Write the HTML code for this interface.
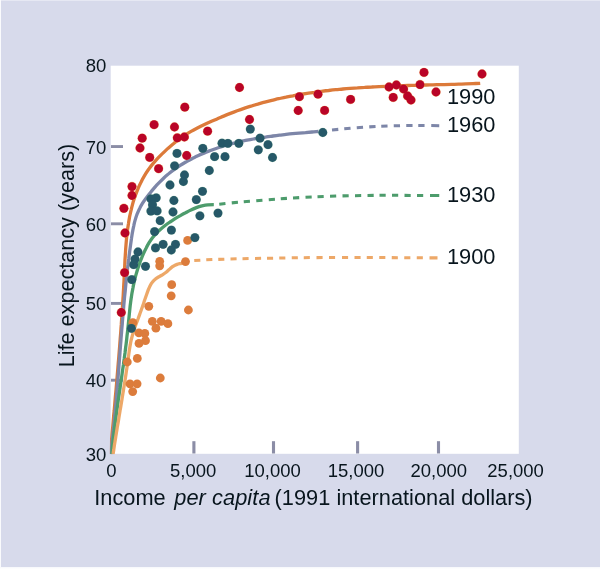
<!DOCTYPE html>
<html><head><meta charset="utf-8"><title>Life expectancy and income</title>
<style>
html,body{margin:0;padding:0;}
body{width:600px;height:569px;overflow:hidden;background:#d7daeb;position:relative;font-family:"Liberation Sans",sans-serif;}
.edge-t{position:absolute;left:0;top:0;width:600px;height:1px;background:#e6e8f3;}
.edge-l{position:absolute;left:0;top:0;width:1px;height:569px;background:#fafbfd;}
.edge-b{position:absolute;left:0;top:567px;width:600px;height:2px;background:linear-gradient(#f6f7fb,#ffffff);}
</style></head><body>
<div class="edge-t"></div><div class="edge-l"></div><div class="edge-b"></div>
<svg width="600" height="569" viewBox="0 0 600 569" style="position:absolute;left:0;top:0">
<rect x="110.7" y="65.7" width="408.1" height="388.1" fill="#fff"/>
<rect x="111.0" y="145.10" width="12.0" height="2.9" fill="#8b8da6"/>
<rect x="111.0" y="222.35" width="12.0" height="2.9" fill="#8b8da6"/>
<rect x="111.0" y="301.95" width="12.0" height="2.9" fill="#8b8da6"/>
<rect x="111.0" y="378.75" width="12.0" height="2.9" fill="#8b8da6"/>
<rect x="192.35" y="441.2" width="3.1" height="12.3" fill="#8b8da6"/>
<rect x="271.95" y="441.2" width="3.1" height="12.3" fill="#8b8da6"/>
<rect x="356.05" y="441.2" width="3.1" height="12.3" fill="#8b8da6"/>
<rect x="436.95" y="441.2" width="3.1" height="12.3" fill="#8b8da6"/>
<clipPath id="pc"><rect x="109.9" y="65.7" width="408.9" height="388.7"/></clipPath>
<g fill="none" stroke-width="3.30" stroke-linecap="butt" stroke-linejoin="round" clip-path="url(#pc)">
<path d="M110.3 454.0 C110.4 452.8 110.7 449.2 110.9 446.8 C111.2 444.4 111.4 442.0 111.6 439.6 C111.8 437.2 112.0 434.8 112.2 432.4 C112.4 430.0 112.7 427.6 112.9 425.2 C113.1 422.8 113.3 420.4 113.5 418.0 C113.7 415.6 113.9 413.2 114.2 410.8 C114.4 408.4 114.6 406.0 114.8 403.6 C115.0 401.2 115.2 398.8 115.4 396.4 C115.6 394.0 115.9 391.6 116.1 389.2 C116.3 386.8 116.5 384.4 116.7 382.0 C116.9 379.6 117.1 377.2 117.3 374.8 C117.5 372.4 117.7 370.0 117.9 367.6 C118.1 365.2 118.3 362.8 118.5 360.4 C118.7 358.0 118.9 355.6 119.1 353.2 C119.3 350.8 119.5 348.4 119.7 346.0 C119.8 343.6 120.0 341.2 120.2 338.8 C120.4 336.4 120.6 334.0 120.8 331.6 C120.9 329.2 121.1 326.8 121.3 324.4 C121.4 322.0 121.6 319.6 121.8 317.2 C121.9 314.8 122.1 312.4 122.3 310.0 C122.4 307.6 122.6 305.2 122.7 302.8 C122.9 300.4 123.0 298.0 123.2 295.6 C123.3 293.2 123.4 290.8 123.6 288.3 C123.7 285.9 123.8 283.5 124.0 281.1 C124.1 278.7 124.2 276.3 124.3 273.9 C124.4 271.5 124.6 269.0 124.7 266.6 C124.8 264.2 124.9 261.8 125.0 259.4 C125.2 257.0 125.3 254.6 125.5 252.2 C125.6 249.7 125.8 247.3 126.0 244.9 C126.2 242.5 126.4 240.1 126.6 237.7 C126.9 235.3 127.1 233.0 127.4 230.6 C127.7 228.2 128.1 225.8 128.5 223.4 C128.8 221.1 129.3 218.7 129.7 216.3 C130.2 214.0 130.7 211.6 131.3 209.3 C131.8 207.0 132.5 204.6 133.1 202.3 C133.8 200.0 134.6 197.7 135.4 195.5 C136.2 193.2 137.0 190.9 138.0 188.7 C138.9 186.5 139.9 184.3 141.0 182.2 C142.0 180.0 143.2 177.9 144.4 175.9 C145.6 173.8 146.9 171.8 148.3 169.8 C149.7 167.9 151.1 165.9 152.6 164.1 C154.2 162.2 155.8 160.4 157.4 158.6 C159.1 156.9 160.8 155.1 162.6 153.4 C164.3 151.7 166.1 150.1 167.9 148.4 C169.7 146.8 171.5 145.2 173.4 143.7 C175.2 142.2 177.1 140.7 179.0 139.2 C181.0 137.8 182.9 136.5 185.0 135.2 C187.0 133.9 189.0 132.6 191.1 131.4 C193.2 130.2 195.3 129.1 197.4 128.0 C199.5 126.9 201.7 125.8 203.9 124.8 C206.0 123.8 208.2 122.8 210.4 121.8 C212.6 120.8 214.8 119.9 217.1 118.9 C219.3 118.0 221.5 117.0 223.7 116.1 C226.0 115.2 228.2 114.3 230.4 113.4 C232.7 112.5 234.9 111.7 237.2 110.8 C239.5 110.0 241.7 109.2 244.0 108.4 C246.3 107.6 248.6 106.9 250.9 106.2 C253.2 105.4 255.5 104.7 257.8 104.1 C260.1 103.4 262.4 102.8 264.8 102.1 C267.1 101.5 269.4 100.9 271.8 100.3 C274.1 99.8 276.4 99.2 278.8 98.7 C281.1 98.2 283.5 97.6 285.9 97.2 C288.2 96.7 290.6 96.2 292.9 95.8 C295.3 95.3 297.7 94.9 300.0 94.5 C302.4 94.1 304.8 93.7 307.1 93.3 C309.5 93.0 311.9 92.6 314.3 92.3 C316.7 91.9 319.0 91.6 321.4 91.3 C323.8 91.0 326.2 90.7 328.6 90.5 C331.0 90.2 333.4 89.9 335.8 89.7 C338.2 89.5 340.5 89.2 342.9 89.0 C345.3 88.8 347.7 88.6 350.1 88.4 C352.5 88.2 354.9 88.0 357.4 87.9 C359.8 87.7 362.2 87.5 364.6 87.4 C367.0 87.2 369.4 87.1 371.8 87.0 C374.2 86.8 376.6 86.7 379.0 86.6 C381.4 86.5 383.8 86.4 386.3 86.3 C388.7 86.2 391.1 86.1 393.5 86.0 C395.9 85.9 398.3 85.8 400.7 85.7 C403.1 85.7 405.6 85.6 408.0 85.5 C410.4 85.4 412.8 85.4 415.2 85.3 C417.6 85.2 420.0 85.2 422.5 85.1 C424.9 85.0 427.3 85.0 429.7 84.9 C432.1 84.9 434.5 84.8 436.9 84.7 C439.3 84.7 441.8 84.6 444.2 84.6 C446.6 84.5 449.0 84.4 451.4 84.3 C453.8 84.3 456.2 84.2 458.6 84.1 C461.0 84.1 463.4 84.0 465.8 83.9 C468.2 83.8 470.6 83.7 473.0 83.6 C475.4 83.5 479.0 83.4 480.2 83.3" stroke="#dc7a3a"/>
<path d="M110.7 454.0 C110.8 452.9 111.2 449.7 111.5 447.5 C111.7 445.3 112.0 443.2 112.2 441.0 C112.5 438.8 112.7 436.6 112.9 434.5 C113.2 432.3 113.4 430.1 113.6 428.0 C113.8 425.8 114.1 423.6 114.3 421.5 C114.5 419.3 114.7 417.1 114.9 414.9 C115.1 412.8 115.3 410.6 115.5 408.4 C115.7 406.3 115.9 404.1 116.1 401.9 C116.2 399.7 116.4 397.6 116.6 395.4 C116.8 393.2 117.0 391.0 117.1 388.9 C117.3 386.7 117.5 384.5 117.7 382.3 C117.8 380.2 118.0 378.0 118.2 375.8 C118.4 373.7 118.5 371.5 118.7 369.3 C118.9 367.1 119.0 365.0 119.2 362.8 C119.4 360.6 119.5 358.4 119.7 356.3 C119.9 354.1 120.0 351.9 120.2 349.7 C120.4 347.6 120.5 345.4 120.7 343.2 C120.9 341.0 121.0 338.9 121.2 336.7 C121.4 334.5 121.6 332.3 121.7 330.2 C121.9 328.0 122.1 325.8 122.3 323.7 C122.4 321.5 122.6 319.3 122.8 317.1 C123.0 315.0 123.2 312.8 123.4 310.6 C123.6 308.4 123.7 306.3 123.9 304.1 C124.1 301.9 124.3 299.8 124.5 297.6 C124.7 295.4 125.0 293.2 125.2 291.1 C125.4 288.9 125.6 286.7 125.8 284.6 C126.0 282.4 126.3 280.2 126.5 278.0 C126.7 275.9 127.0 273.7 127.2 271.5 C127.5 269.4 127.7 267.2 128.0 265.0 C128.2 262.9 128.5 260.7 128.8 258.5 C129.0 256.4 129.3 254.2 129.6 252.0 C129.9 249.9 130.2 247.7 130.5 245.5 C130.8 243.4 131.1 241.2 131.4 239.0 C131.7 236.9 132.1 234.7 132.4 232.6 C132.8 230.4 133.2 228.3 133.7 226.1 C134.1 224.0 134.6 221.9 135.2 219.9 C135.8 217.8 136.5 215.8 137.2 213.8 C138.0 211.8 138.9 209.8 139.9 207.9 C140.8 206.0 142.0 204.1 143.1 202.3 C144.3 200.4 145.7 198.7 147.0 196.9 C148.3 195.1 149.7 193.4 151.1 191.7 C152.5 190.0 154.0 188.3 155.4 186.6 C156.9 185.0 158.4 183.3 159.9 181.8 C161.5 180.2 163.0 178.7 164.6 177.2 C166.3 175.8 167.9 174.4 169.6 173.0 C171.3 171.6 173.0 170.3 174.8 169.1 C176.6 167.8 178.4 166.6 180.2 165.4 C182.0 164.2 183.9 163.1 185.8 162.0 C187.6 161.0 189.5 159.9 191.5 158.9 C193.4 157.9 195.4 157.0 197.3 156.0 C199.3 155.1 201.3 154.2 203.3 153.4 C205.3 152.5 207.3 151.7 209.4 150.9 C211.4 150.2 213.4 149.4 215.5 148.7 C217.5 148.0 219.6 147.3 221.7 146.7 C223.8 146.0 225.9 145.4 227.9 144.8 C230.0 144.2 232.2 143.7 234.3 143.1 C236.4 142.6 238.5 142.1 240.6 141.6 C242.8 141.1 244.9 140.7 247.0 140.2 C249.2 139.8 251.3 139.4 253.5 139.0 C255.6 138.6 257.8 138.2 259.9 137.9 C262.1 137.5 264.3 137.2 266.4 136.9 C268.6 136.5 270.8 136.3 272.9 136.0 C275.1 135.7 277.3 135.4 279.5 135.1 C281.6 134.9 283.8 134.6 286.0 134.4 C288.2 134.2 290.3 134.0 292.5 133.7 C294.7 133.5 296.9 133.3 299.0 133.1 C301.2 132.9 303.4 132.7 305.5 132.6 C307.7 132.4 309.9 132.2 312.0 132.0 C314.2 131.8 317.4 131.6 318.5 131.5" stroke="#7d86a8"/>
<path d="M111.8 454.0 C111.9 453.0 112.2 450.0 112.3 448.0 C112.5 446.1 112.7 444.1 112.9 442.1 C113.2 440.1 113.4 438.1 113.6 436.1 C113.8 434.2 114.0 432.2 114.3 430.2 C114.5 428.2 114.8 426.2 115.0 424.3 C115.3 422.3 115.5 420.3 115.8 418.3 C116.1 416.3 116.3 414.4 116.6 412.4 C116.9 410.4 117.1 408.4 117.4 406.4 C117.7 404.5 118.0 402.5 118.2 400.5 C118.5 398.5 118.8 396.5 119.1 394.6 C119.4 392.6 119.7 390.6 120.0 388.6 C120.2 386.7 120.5 384.7 120.8 382.7 C121.1 380.7 121.4 378.7 121.7 376.8 C122.0 374.8 122.2 372.8 122.5 370.8 C122.8 368.8 123.1 366.9 123.4 364.9 C123.6 362.9 123.9 360.9 124.2 358.9 C124.4 357.0 124.7 355.0 125.0 353.0 C125.2 351.0 125.5 349.0 125.7 347.1 C126.0 345.1 126.2 343.1 126.5 341.1 C126.7 339.1 126.9 337.2 127.1 335.2 C127.4 333.2 127.6 331.2 127.8 329.2 C128.0 327.3 128.2 325.3 128.4 323.3 C128.6 321.3 128.8 319.3 129.0 317.3 C129.2 315.4 129.4 313.4 129.6 311.4 C129.8 309.4 130.0 307.4 130.2 305.5 C130.5 303.5 130.7 301.5 131.0 299.5 C131.3 297.6 131.6 295.6 131.9 293.6 C132.2 291.6 132.6 289.7 133.0 287.7 C133.3 285.8 133.8 283.8 134.2 281.8 C134.7 279.9 135.1 277.9 135.6 276.0 C136.2 274.1 136.7 272.1 137.3 270.2 C137.9 268.3 138.5 266.4 139.2 264.5 C139.8 262.6 140.5 260.7 141.3 258.9 C142.0 257.0 142.8 255.1 143.6 253.3 C144.4 251.5 145.3 249.6 146.2 247.9 C147.1 246.1 148.1 244.4 149.1 242.7 C150.2 241.0 151.3 239.4 152.5 237.8 C153.7 236.3 155.0 234.8 156.3 233.4 C157.7 231.9 159.1 230.6 160.6 229.3 C162.0 228.0 163.6 226.7 165.1 225.5 C166.7 224.3 168.4 223.1 170.0 222.0 C171.7 220.9 173.4 219.8 175.1 218.7 C176.8 217.6 178.5 216.6 180.3 215.6 C182.0 214.6 183.8 213.6 185.6 212.7 C187.3 211.8 189.1 210.8 190.9 210.0 C192.7 209.1 194.6 208.3 196.4 207.6 C198.2 206.9 200.1 206.3 202.0 205.8 C203.9 205.4 205.8 205.0 207.8 204.8 C209.8 204.6 212.8 204.6 213.8 204.6" stroke="#4d9c6c"/>
<path d="M113.1 454.0 C113.2 453.3 113.5 451.1 113.8 449.6 C114.0 448.2 114.2 446.7 114.4 445.2 C114.7 443.8 114.9 442.3 115.1 440.9 C115.4 439.4 115.6 437.9 115.8 436.5 C116.1 435.0 116.3 433.6 116.5 432.1 C116.8 430.7 117.0 429.2 117.2 427.7 C117.5 426.3 117.7 424.8 118.0 423.4 C118.2 421.9 118.5 420.5 118.7 419.0 C118.9 417.6 119.2 416.1 119.4 414.6 C119.7 413.2 119.9 411.7 120.1 410.3 C120.4 408.8 120.6 407.4 120.9 405.9 C121.1 404.5 121.4 403.0 121.6 401.6 C121.8 400.1 122.1 398.6 122.3 397.2 C122.6 395.7 122.8 394.3 123.0 392.8 C123.3 391.4 123.5 389.9 123.7 388.5 C124.0 387.0 124.2 385.5 124.4 384.1 C124.7 382.6 124.9 381.2 125.1 379.7 C125.3 378.3 125.6 376.8 125.8 375.3 C126.0 373.9 126.2 372.4 126.4 371.0 C126.7 369.5 126.9 368.1 127.1 366.6 C127.3 365.1 127.5 363.7 127.7 362.2 C127.9 360.7 128.1 359.3 128.3 357.8 C128.5 356.4 128.7 354.9 128.9 353.4 C129.1 352.0 129.3 350.5 129.5 349.1 C129.8 347.6 130.0 346.1 130.3 344.7 C130.5 343.2 130.8 341.8 131.1 340.4 C131.5 338.9 131.8 337.5 132.2 336.1 C132.6 334.7 133.0 333.2 133.5 331.8 C133.9 330.4 134.4 329.0 134.8 327.6 C135.3 326.2 135.8 324.8 136.3 323.4 C136.8 322.0 137.3 320.7 137.9 319.3 C138.4 317.9 138.9 316.5 139.4 315.1 C139.9 313.7 140.4 312.4 140.9 311.0 C141.4 309.6 141.9 308.2 142.4 306.8 C142.9 305.4 143.3 304.1 143.8 302.7 C144.3 301.3 144.7 299.9 145.2 298.5 C145.7 297.1 146.2 295.7 146.7 294.3 C147.2 292.9 147.7 291.4 148.2 290.0 C148.8 288.6 149.4 287.2 150.0 286.0 C150.7 284.7 151.4 283.4 152.3 282.3 C153.2 281.1 154.1 280.1 155.2 279.2 C156.3 278.2 157.6 277.5 158.9 276.8 C160.2 276.0 161.6 275.3 162.8 274.6 C164.1 273.8 165.3 272.9 166.5 272.0 C167.6 271.0 168.6 269.9 169.8 269.0 C170.9 268.0 171.9 267.0 173.1 266.3 C174.4 265.5 175.7 264.9 177.1 264.4 C178.5 263.9 180.1 263.7 181.5 263.3 C182.9 262.9 185.0 262.2 185.7 262.0" stroke="#eda868"/>
</g>
<path d="M219.25 204.15 L225.45 203.47 M231.75 202.86 L237.95 202.31 M243.75 201.83 L249.95 201.33 M256.25 200.82 L262.45 200.32 M268.75 199.81 L274.95 199.31 M280.75 198.83 L286.95 198.38 M293.00 197.99 L299.20 197.62 M305.50 197.26 L311.70 196.99 M317.50 196.80 L323.70 196.58 M330.00 196.32 L336.20 196.10 M342.50 195.89 L348.70 195.75 M355.00 195.65 L361.20 195.55 M367.50 195.45 L373.70 195.37 M379.50 195.33 L385.70 195.30 M392.00 195.30 L398.20 195.32 M404.50 195.37 L410.70 195.40 M417.00 195.40 L423.20 195.43 M430.00 195.50 L439.25 195.59" stroke="#4d9c6c" stroke-width="3.05" fill="none"/>
<path d="M194.25 260.50 L200.35 260.17 M206.25 259.85 L212.35 259.59 M218.25 259.39 L224.35 259.17 M230.50 258.92 L236.60 258.75 M242.50 258.66 L248.60 258.56 M255.00 258.45 L261.10 258.35 M267.00 258.25 L273.10 258.16 M279.25 258.05 L285.35 257.96 M291.75 257.85 L297.85 257.75 M303.75 257.66 L309.85 257.60 M316.50 257.60 L322.60 257.58 M329.00 257.52 L335.10 257.50 M342.00 257.50 L348.10 257.50 M354.50 257.50 L360.60 257.50 M366.75 257.50 L372.85 257.52 M379.25 257.56 L385.35 257.60 M391.75 257.64 L397.85 257.69 M404.25 257.72 L410.35 257.75 M416.75 257.78 L422.85 257.81 M429.50 257.85 L437.50 257.89" stroke="#eda868" stroke-width="3.05" fill="none"/>
<path d="M332.00 130.00 L338.30 129.39 M344.25 128.81 L350.55 128.24 M356.75 127.72 L363.05 127.27 M369.25 126.87 L375.55 126.53 M381.25 126.25 L387.55 126.00 M393.75 125.80 L400.05 125.65 M406.25 125.55 L412.55 125.50 M418.25 125.50 L424.55 125.53 M431.25 125.60 L439.25 125.69" stroke="#7d86a8" stroke-width="3.05" fill="none"/>
<g fill="#dc7c3c">
<circle cx="187.6" cy="240.4" r="4.4"/><circle cx="159.7" cy="261.3" r="4.4"/><circle cx="159.7" cy="265.8" r="4.4"/><circle cx="185.5" cy="261.6" r="4.4"/><circle cx="171.7" cy="284.7" r="4.4"/><circle cx="171.2" cy="295.8" r="4.4"/><circle cx="148.8" cy="306.3" r="4.4"/><circle cx="188.4" cy="310.0" r="4.4"/><circle cx="132.9" cy="322.6" r="4.4"/><circle cx="152.3" cy="321.3" r="4.4"/><circle cx="161.1" cy="321.3" r="4.4"/><circle cx="167.9" cy="323.7" r="4.4"/><circle cx="155.9" cy="328.2" r="4.4"/><circle cx="138.9" cy="332.9" r="4.4"/><circle cx="144.8" cy="333.4" r="4.4"/><circle cx="145.5" cy="340.7" r="4.4"/><circle cx="139.0" cy="343.4" r="4.4"/><circle cx="137.3" cy="358.4" r="4.4"/><circle cx="127.3" cy="362.0" r="4.4"/><circle cx="160.3" cy="378.0" r="4.4"/><circle cx="130.0" cy="383.8" r="4.4"/><circle cx="137.1" cy="383.8" r="4.4"/><circle cx="132.7" cy="391.6" r="4.4"/>
</g>
<g fill="#4d9c6c" fill-opacity="0.45"><circle cx="177.0" cy="153.4" r="4.65"/><circle cx="202.8" cy="148.3" r="4.65"/><circle cx="174.6" cy="165.8" r="4.65"/><circle cx="214.6" cy="156.7" r="4.65"/><circle cx="222.0" cy="143.2" r="4.65"/><circle cx="209.3" cy="170.5" r="4.65"/><circle cx="184.5" cy="175.0" r="4.65"/><circle cx="183.4" cy="181.5" r="4.65"/><circle cx="170.0" cy="185.0" r="4.65"/><circle cx="202.5" cy="191.3" r="4.65"/><circle cx="196.3" cy="199.6" r="4.65"/><circle cx="173.9" cy="200.5" r="4.65"/><circle cx="156.2" cy="197.8" r="4.65"/><circle cx="150.9" cy="198.8" r="4.65"/><circle cx="152.5" cy="204.8" r="4.65"/><circle cx="150.9" cy="211.1" r="4.65"/><circle cx="157.1" cy="210.9" r="4.65"/><circle cx="173.0" cy="212.0" r="4.65"/><circle cx="199.9" cy="215.8" r="4.65"/><circle cx="218.0" cy="213.1" r="4.65"/><circle cx="160.2" cy="220.7" r="4.65"/><circle cx="154.6" cy="231.6" r="4.65"/><circle cx="171.4" cy="230.1" r="4.65"/><circle cx="194.9" cy="237.6" r="4.65"/><circle cx="155.5" cy="247.9" r="4.65"/><circle cx="163.1" cy="244.3" r="4.65"/><circle cx="175.5" cy="244.3" r="4.65"/><circle cx="171.3" cy="250.0" r="4.65"/><circle cx="138.0" cy="252.0" r="4.65"/><circle cx="135.0" cy="259.1" r="4.65"/><circle cx="133.7" cy="264.7" r="4.65"/><circle cx="145.5" cy="266.3" r="4.65"/><circle cx="131.8" cy="279.6" r="4.65"/><circle cx="131.4" cy="328.3" r="4.65"/><circle cx="250.3" cy="129.1" r="4.65"/><circle cx="260.0" cy="138.2" r="4.65"/><circle cx="227.9" cy="143.3" r="4.65"/><circle cx="238.8" cy="143.3" r="4.65"/><circle cx="268.0" cy="144.7" r="4.65"/><circle cx="258.3" cy="149.8" r="4.65"/><circle cx="225.0" cy="156.7" r="4.65"/><circle cx="272.5" cy="157.5" r="4.65"/><circle cx="322.8" cy="132.5" r="4.65"/></g>
<g fill="#265868">
<circle cx="177.0" cy="153.4" r="4.4"/><circle cx="202.8" cy="148.3" r="4.4"/><circle cx="174.6" cy="165.8" r="4.4"/><circle cx="214.6" cy="156.7" r="4.4"/><circle cx="222.0" cy="143.2" r="4.4"/><circle cx="209.3" cy="170.5" r="4.4"/><circle cx="184.5" cy="175.0" r="4.4"/><circle cx="183.4" cy="181.5" r="4.4"/><circle cx="170.0" cy="185.0" r="4.4"/><circle cx="202.5" cy="191.3" r="4.4"/><circle cx="196.3" cy="199.6" r="4.4"/><circle cx="173.9" cy="200.5" r="4.4"/><circle cx="156.2" cy="197.8" r="4.4"/><circle cx="150.9" cy="198.8" r="4.4"/><circle cx="152.5" cy="204.8" r="4.4"/><circle cx="150.9" cy="211.1" r="4.4"/><circle cx="157.1" cy="210.9" r="4.4"/><circle cx="173.0" cy="212.0" r="4.4"/><circle cx="199.9" cy="215.8" r="4.4"/><circle cx="218.0" cy="213.1" r="4.4"/><circle cx="160.2" cy="220.7" r="4.4"/><circle cx="154.6" cy="231.6" r="4.4"/><circle cx="171.4" cy="230.1" r="4.4"/><circle cx="194.9" cy="237.6" r="4.4"/><circle cx="155.5" cy="247.9" r="4.4"/><circle cx="163.1" cy="244.3" r="4.4"/><circle cx="175.5" cy="244.3" r="4.4"/><circle cx="171.3" cy="250.0" r="4.4"/><circle cx="138.0" cy="252.0" r="4.4"/><circle cx="135.0" cy="259.1" r="4.4"/><circle cx="133.7" cy="264.7" r="4.4"/><circle cx="145.5" cy="266.3" r="4.4"/><circle cx="131.8" cy="279.6" r="4.4"/><circle cx="131.4" cy="328.3" r="4.4"/><circle cx="250.3" cy="129.1" r="4.4"/><circle cx="260.0" cy="138.2" r="4.4"/><circle cx="227.9" cy="143.3" r="4.4"/><circle cx="238.8" cy="143.3" r="4.4"/><circle cx="268.0" cy="144.7" r="4.4"/><circle cx="258.3" cy="149.8" r="4.4"/><circle cx="225.0" cy="156.7" r="4.4"/><circle cx="272.5" cy="157.5" r="4.4"/><circle cx="322.8" cy="132.5" r="4.4"/>
</g>
<g fill="#f2a65a" fill-opacity="0.75"><circle cx="184.8" cy="107.2" r="4.75"/><circle cx="154.1" cy="124.7" r="4.75"/><circle cx="174.5" cy="127.0" r="4.75"/><circle cx="142.2" cy="138.2" r="4.75"/><circle cx="177.3" cy="137.8" r="4.75"/><circle cx="184.4" cy="137.0" r="4.75"/><circle cx="207.6" cy="131.2" r="4.75"/><circle cx="140.0" cy="148.0" r="4.75"/><circle cx="149.7" cy="157.4" r="4.75"/><circle cx="186.7" cy="155.5" r="4.75"/><circle cx="158.6" cy="168.7" r="4.75"/><circle cx="132.0" cy="186.6" r="4.75"/><circle cx="132.0" cy="195.5" r="4.75"/><circle cx="123.9" cy="208.3" r="4.75"/><circle cx="125.0" cy="233.0" r="4.75"/><circle cx="124.6" cy="272.6" r="4.75"/><circle cx="121.3" cy="312.5" r="4.75"/><circle cx="239.5" cy="87.5" r="4.75"/><circle cx="249.5" cy="119.5" r="4.75"/><circle cx="299.4" cy="96.7" r="4.75"/><circle cx="318.0" cy="94.2" r="4.75"/><circle cx="298.2" cy="110.5" r="4.75"/><circle cx="324.6" cy="110.4" r="4.75"/><circle cx="350.6" cy="99.4" r="4.75"/><circle cx="389.0" cy="87.0" r="4.75"/><circle cx="396.4" cy="85.0" r="4.75"/><circle cx="393.2" cy="97.4" r="4.75"/><circle cx="403.6" cy="89.0" r="4.75"/><circle cx="407.6" cy="96.0" r="4.75"/><circle cx="411.0" cy="100.0" r="4.75"/><circle cx="420.0" cy="84.6" r="4.75"/><circle cx="424.0" cy="72.4" r="4.75"/><circle cx="436.0" cy="92.0" r="4.75"/><circle cx="482.0" cy="74.0" r="4.75"/></g>
<g fill="#b90427">
<circle cx="184.8" cy="107.2" r="4.4"/><circle cx="154.1" cy="124.7" r="4.4"/><circle cx="174.5" cy="127.0" r="4.4"/><circle cx="142.2" cy="138.2" r="4.4"/><circle cx="177.3" cy="137.8" r="4.4"/><circle cx="184.4" cy="137.0" r="4.4"/><circle cx="207.6" cy="131.2" r="4.4"/><circle cx="140.0" cy="148.0" r="4.4"/><circle cx="149.7" cy="157.4" r="4.4"/><circle cx="186.7" cy="155.5" r="4.4"/><circle cx="158.6" cy="168.7" r="4.4"/><circle cx="132.0" cy="186.6" r="4.4"/><circle cx="132.0" cy="195.5" r="4.4"/><circle cx="123.9" cy="208.3" r="4.4"/><circle cx="125.0" cy="233.0" r="4.4"/><circle cx="124.6" cy="272.6" r="4.4"/><circle cx="121.3" cy="312.5" r="4.4"/><circle cx="239.5" cy="87.5" r="4.4"/><circle cx="249.5" cy="119.5" r="4.4"/><circle cx="299.4" cy="96.7" r="4.4"/><circle cx="318.0" cy="94.2" r="4.4"/><circle cx="298.2" cy="110.5" r="4.4"/><circle cx="324.6" cy="110.4" r="4.4"/><circle cx="350.6" cy="99.4" r="4.4"/><circle cx="389.0" cy="87.0" r="4.4"/><circle cx="396.4" cy="85.0" r="4.4"/><circle cx="393.2" cy="97.4" r="4.4"/><circle cx="403.6" cy="89.0" r="4.4"/><circle cx="407.6" cy="96.0" r="4.4"/><circle cx="411.0" cy="100.0" r="4.4"/><circle cx="420.0" cy="84.6" r="4.4"/><circle cx="424.0" cy="72.4" r="4.4"/><circle cx="436.0" cy="92.0" r="4.4"/><circle cx="482.0" cy="74.0" r="4.4"/>
</g>
<g fill="#08151d" font-family="Liberation Sans, sans-serif">
<text transform="translate(106.4 72.0) scale(1.02 1)" font-size="18.2" text-anchor="end">80</text>
<text transform="translate(106.4 153.7) scale(1.02 1)" font-size="18.2" text-anchor="end">70</text>
<text transform="translate(106.4 230.9) scale(1.02 1)" font-size="18.2" text-anchor="end">60</text>
<text transform="translate(106.4 309.5) scale(1.02 1)" font-size="18.2" text-anchor="end">50</text>
<text transform="translate(106.4 387.1) scale(1.02 1)" font-size="18.2" text-anchor="end">40</text>
<text transform="translate(106.4 461.2) scale(1.02 1)" font-size="18.2" text-anchor="end">30</text>
<text transform="translate(111.3 477.0) scale(1.005 1)" font-size="18.4" text-anchor="middle">0</text>
<text transform="translate(193.2 477.0) scale(1.005 1)" font-size="18.4" text-anchor="middle">5,000</text>
<text transform="translate(272.5 477.0) scale(1.005 1)" font-size="18.4" text-anchor="middle">10,000</text>
<text transform="translate(356.0 477.0) scale(1.005 1)" font-size="18.4" text-anchor="middle">15,000</text>
<text transform="translate(438.8 477.0) scale(1.005 1)" font-size="18.4" text-anchor="middle">20,000</text>
<text transform="translate(515.6 477.0) scale(1.005 1)" font-size="18.4" text-anchor="middle">25,000</text>
<text x="447.0" y="104.1" font-size="21.8">1990</text>
<text x="447.0" y="131.7" font-size="21.8">1960</text>
<text x="447.0" y="201.7" font-size="21.8">1930</text>
<text x="447.0" y="264.3" font-size="21.8">1900</text>
<text x="94.3" y="505" font-size="21.75">Income</text>
<text x="174.2" y="505" font-size="21.75" font-style="italic" textLength="96.3">per capita</text>
<text x="274.6" y="505" font-size="21.75" textLength="258">(1991 international dollars)</text>
<text transform="translate(74.25 367.3) rotate(-90)" font-size="21.6" textLength="223.5" lengthAdjust="spacingAndGlyphs">Life expectancy (years)</text>
</g>
</svg>
</body></html>
